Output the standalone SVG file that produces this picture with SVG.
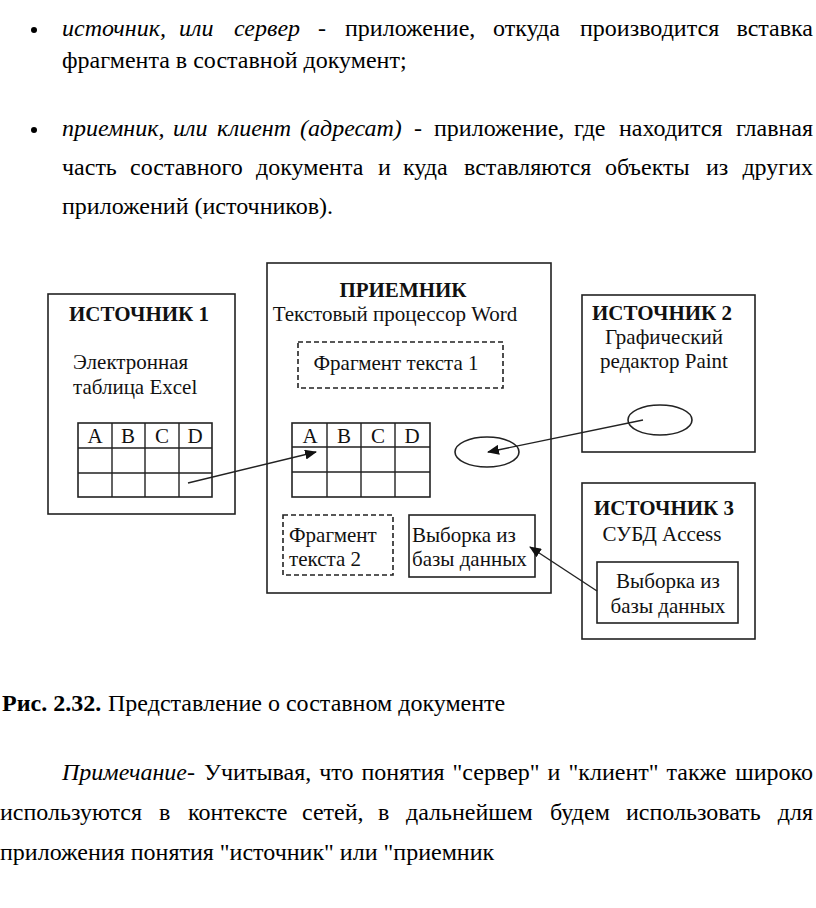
<svg xmlns="http://www.w3.org/2000/svg" width="816" height="908" viewBox="0 0 816 908">
<style>
.t{font-family:"Liberation Serif","Times New Roman",serif;font-size:24px;fill:#000}
.i{font-style:italic}
.b{font-weight:bold}
.d{font-family:"Liberation Serif","Times New Roman",serif;font-size:21px;fill:#111}
.db{font-family:"Liberation Serif","Times New Roman",serif;font-size:21px;font-weight:bold;fill:#111}
.box{fill:none;stroke:#222;stroke-width:1.6}
.dash{fill:none;stroke:#222;stroke-width:1.6;stroke-dasharray:5 3}
.ln{fill:none;stroke:#222;stroke-width:1.4}
.cn{stroke:#222;stroke-width:1.4;fill:none}
</style>
<defs>
<marker id="ah" viewBox="0 0 12 10" refX="11" refY="5" markerWidth="12" markerHeight="10" markerUnits="userSpaceOnUse" orient="auto">
<path d="M0,0 L12,5 L0,10 z" fill="#111"/>
</marker>
</defs>
<rect width="816" height="908" fill="#fff"/>

<g id="text-top">
<circle cx="34" cy="30" r="3" fill="#000"/>
<text class="t" y="36"><tspan class="i" x="62">источник,</tspan><tspan class="i" x="179">или</tspan><tspan class="i" x="234">сервер</tspan><tspan x="318">-</tspan><tspan x="345">приложение,</tspan><tspan x="493">откуда</tspan><tspan x="580">производится</tspan><tspan x="813" text-anchor="end">вставка</tspan></text>
<text class="t" x="62" y="68">фрагмента в составной документ;</text>
<circle cx="34" cy="130" r="3" fill="#000"/>
<text class="t" y="136"><tspan class="i" x="62">приемник,</tspan><tspan class="i" x="173">или</tspan><tspan class="i" x="217">клиент</tspan><tspan class="i" x="300">(адресат)</tspan><tspan class="i" x="414">-</tspan><tspan x="434">приложение,</tspan><tspan x="574">где</tspan><tspan x="619">находится</tspan><tspan x="813" text-anchor="end">главная</tspan></text>
<text class="t" y="175"><tspan x="62">часть</tspan><tspan x="130">составного</tspan><tspan x="256">документа</tspan><tspan x="378">и</tspan><tspan x="403">куда</tspan><tspan x="464">вставляются</tspan><tspan x="605">объекты</tspan><tspan x="706">из</tspan><tspan x="813" text-anchor="end">других</tspan></text>
<text class="t" x="62" y="214">приложений (источников).</text>
</g>

<g id="text-bottom">
<text class="t" y="711"><tspan class="b" x="2">Рис. 2.32.</tspan><tspan x="108">Представление о составном документе</tspan></text>
<text class="t" y="780"><tspan class="i" x="62">Примечание-</tspan><tspan x="204" style="word-spacing:2px">Учитывая, что понятия "сервер" и "клиент" также</tspan><tspan x="813" text-anchor="end">широко</tspan></text>
<text class="t" y="820"><tspan x="0">используются</tspan><tspan x="159">в</tspan><tspan x="188">контексте</tspan><tspan x="302">сетей,</tspan><tspan x="378">в</tspan><tspan x="406">дальнейшем</tspan><tspan x="550">будем</tspan><tspan x="626">использовать</tspan><tspan x="813" text-anchor="end">для</tspan></text>
<text class="t" x="0" y="860">приложения понятия "источник" или "приемник</text>
</g>

<g id="source1">
<rect class="box" x="48" y="294" width="187" height="220"/>
<text class="db" x="139" y="321" text-anchor="middle">ИСТОЧНИК 1</text>
<text class="d" x="73" y="369">Электронная</text>
<text class="d" x="73" y="394">таблица Excel</text>
<rect class="box" x="78" y="423" width="134" height="74"/>
<path class="ln" d="M78,448H212M78,473H212M112,423V497M145,423V497M179,423V497"/>
<text class="d" x="95" y="443" text-anchor="middle">A</text>
<text class="d" x="128" y="443" text-anchor="middle">B</text>
<text class="d" x="162" y="443" text-anchor="middle">C</text>
<text class="d" x="195" y="443" text-anchor="middle">D</text>
</g>

<g id="receiver">
<rect class="box" x="267" y="263" width="284" height="330"/>
<text class="db" x="403" y="297" text-anchor="middle">ПРИЕМНИК</text>
<text class="d" x="395" y="321" text-anchor="middle">Текстовый процессор Word</text>
<rect class="dash" x="298" y="342" width="205" height="46"/>
<text class="d" x="396" y="370" text-anchor="middle">Фрагмент текста 1</text>
<rect class="box" x="292" y="423" width="138" height="74"/>
<path class="ln" d="M292,447H430M292,472H430M327,423V497M361,423V497M395,423V497"/>
<text class="d" x="310" y="443" text-anchor="middle">A</text>
<text class="d" x="344" y="443" text-anchor="middle">B</text>
<text class="d" x="378" y="443" text-anchor="middle">C</text>
<text class="d" x="412" y="443" text-anchor="middle">D</text>
<ellipse class="box" cx="487" cy="452" rx="32" ry="15"/>
<rect class="dash" x="283" y="515" width="110" height="60"/>
<text class="d" x="289" y="542">Фрагмент</text>
<text class="d" x="289" y="566">текста 2</text>
<rect class="box" x="409" y="515" width="126" height="62"/>
<text class="d" x="412" y="542">Выборка из</text>
<text class="d" x="412" y="566">базы данных</text>
</g>

<g id="source2">
<rect class="box" x="582" y="295" width="173" height="157"/>
<text class="db" x="662" y="320" text-anchor="middle">ИСТОЧНИК 2</text>
<text class="d" x="664" y="344" text-anchor="middle">Графический</text>
<text class="d" x="664" y="368" text-anchor="middle">редактор Paint</text>
<ellipse class="box" cx="660" cy="420" rx="32" ry="15"/>
</g>

<g id="source3">
<rect class="box" x="582" y="483" width="173" height="156"/>
<text class="db" x="664" y="515" text-anchor="middle">ИСТОЧНИК 3</text>
<text class="d" x="662" y="541" text-anchor="middle">СУБД Access</text>
<rect class="box" x="597" y="562" width="141" height="61"/>
<text class="d" x="668" y="588" text-anchor="middle">Выборка из</text>
<text class="d" x="668" y="613" text-anchor="middle">базы данных</text>
</g>

<g id="connectors">
<line class="cn" x1="188" y1="483" x2="316" y2="452" marker-end="url(#ah)"/>
<line class="cn" x1="643" y1="420" x2="488" y2="452" marker-end="url(#ah)"/>
<line class="cn" x1="597" y1="591" x2="530" y2="547" marker-end="url(#ah)"/>
</g>
</svg>
